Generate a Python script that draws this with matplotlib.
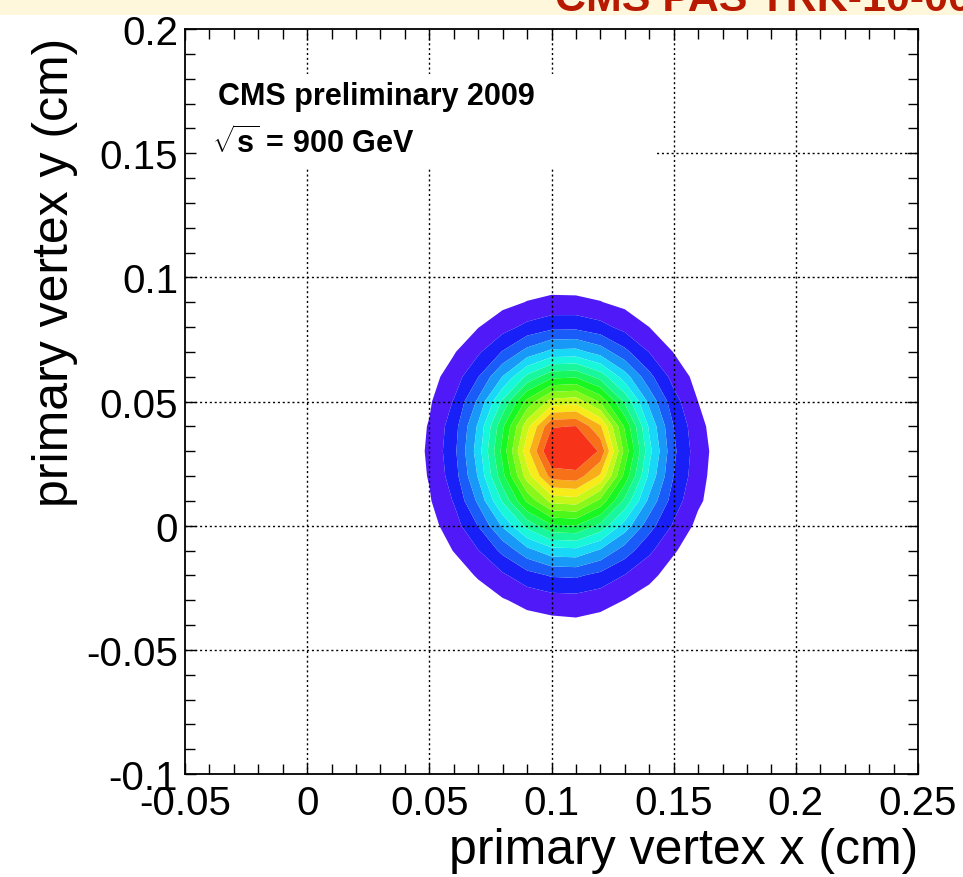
import numpy as np
import matplotlib
matplotlib.use("Agg")
import matplotlib.pyplot as plt
from matplotlib.colors import ListedColormap, hsv_to_rgb
from matplotlib.ticker import MultipleLocator, FuncFormatter
from matplotlib.patches import Rectangle

# bin centres of the vertex histogram (cm)
x_centers = [0.04, 0.05, 0.06, 0.07, 0.08, 0.09, 0.10, 0.11,
             0.12, 0.13, 0.14, 0.15, 0.16, 0.17, 0.18]
y_centers = [-0.05, -0.04, -0.03, -0.02, -0.01, 0.00, 0.01, 0.02, 0.03,
             0.04, 0.05, 0.06, 0.07, 0.08, 0.09, 0.10, 0.11]

# entries per bin, one row per y centre (bottom to top)
counts = [
    [0, 1, 2, 5, 9, 12, 15, 16, 13, 9, 6, 3, 1, 0, 0],
    [1, 3, 6, 13, 24, 33, 40, 45, 36, 24, 15, 8, 3, 1, 0],
    [2, 6, 15, 30, 55, 78, 92, 95, 82, 59, 36, 18, 7, 3, 1],
    [4, 12, 31, 66, 110, 156, 186, 190, 162, 118, 74, 36, 15, 5, 2],
    [8, 24, 62, 118, 196, 280, 336, 342, 292, 212, 132, 66, 27, 10, 3],
    [12, 38, 92, 182, 308, 440, 532, 540, 462, 334, 205, 112, 44, 15, 5],
    [17, 54, 124, 252, 428, 612, 740, 752, 644, 464, 284, 150, 70, 22, 6],
    [22, 64, 150, 306, 522, 750, 925, 935, 830, 580, 346, 180, 80, 26, 8],
    [26, 68, 162, 330, 560, 820, 1030, 1040, 950, 640, 380, 192, 86, 29, 9],
    [24, 64, 152, 310, 528, 760, 955, 962, 850, 590, 350, 180, 76, 27, 8],
    [18, 52, 124, 252, 430, 618, 746, 758, 650, 468, 284, 144, 60, 22, 7],
    [12, 37, 88, 178, 302, 434, 524, 532, 456, 328, 198, 98, 40, 15, 5],
    [7, 22, 55, 110, 184, 262, 316, 320, 274, 196, 118, 58, 24, 9, 3],
    [4, 12, 29, 58, 96, 136, 163, 164, 140, 100, 60, 30, 13, 5, 2],
    [2, 5, 12, 26, 43, 62, 73, 72, 62, 44, 27, 13, 6, 2, 1],
    [1, 2, 5, 10, 17, 24, 29, 28, 24, 17, 11, 6, 2, 1, 0],
    [0, 1, 2, 3, 6, 8, 10, 10, 9, 6, 4, 2, 1, 0, 0],
]

plt.rcParams['font.family'] = ['Liberation Sans', 'DejaVu Sans']
plt.rcParams['mathtext.fontset'] = 'custom'
plt.rcParams['mathtext.rm'] = 'Liberation Sans'
plt.rcParams['mathtext.bf'] = 'Liberation Sans:bold'

W, H = 963, 878
fig = plt.figure(figsize=(W / 100, H / 100), dpi=100)

# slide banner at the top (cut off)
fig.patches.append(Rectangle((0, 1 - 16 / H), 1, 16 / H, transform=fig.transFigure,
                             facecolor='#fff7dc', edgecolor='none'))
fig.text(555 / W, 1 - 11 / H, "CMS PAS TRK-10-005", color='#b81a00',
         fontsize=31, fontweight='bold', ha='left', va='baseline')

ax = fig.add_axes([185 / W, 1 - 775 / H, 733 / W, 745 / H])

# ROOT-like rainbow palette, violet -> red
n_bands = 16
hues = np.linspace(0.708, 0.02, n_bands)
cmap = ListedColormap(hsv_to_rgb(np.column_stack([hues, np.full(n_bands, 0.9),
                                                  np.full(n_bands, 0.97)])))
z = np.array(counts, dtype=float)
levels = np.append(np.arange(60, 961, 60), z.max() + 1)
ax.contourf(x_centers, y_centers, z, levels=levels, cmap=cmap, zorder=1,
            antialiased=True)

ax.set_xlim(-0.05, 0.25)
ax.set_ylim(-0.1, 0.2)
ax.xaxis.set_major_locator(MultipleLocator(0.05))
ax.xaxis.set_minor_locator(MultipleLocator(0.01))
ax.yaxis.set_major_locator(MultipleLocator(0.05))
ax.yaxis.set_minor_locator(MultipleLocator(0.01))
fmt = FuncFormatter(lambda v, p: f"{round(v, 4) + 0:g}")
ax.xaxis.set_major_formatter(fmt)
ax.yaxis.set_major_formatter(fmt)

# dotted grid at the major ticks
for xv in ax.get_xticks():
    if -0.05 < xv < 0.25:
        ax.axvline(xv, color='black', lw=1.0, ls=(0, (1.5, 2.0)), zorder=2)
for yv in ax.get_yticks():
    if -0.1 < yv < 0.2:
        ax.axhline(yv, color='black', lw=1.0, ls=(0, (1.5, 2.0)), zorder=2)

# white text pad
ax.add_patch(Rectangle((0, 0.815), 0.641, 0.125, transform=ax.transAxes,
                       facecolor='white', edgecolor='none', zorder=3))
ax.text(0.045, 0.899, "CMS preliminary 2009", transform=ax.transAxes,
        fontsize=22, fontweight='bold', va='baseline', ha='left', zorder=4)
ax.text(0.037, 0.835, r"$\sqrt{\mathbf{s}}$ = 900 GeV", transform=ax.transAxes,
        fontsize=22, fontweight='bold', va='baseline', ha='left', zorder=4)

ax.tick_params(which='both', direction='in', top=True, right=True, width=1.0,
               labelsize=29)
ax.tick_params(which='major', length=8)
ax.tick_params(which='minor', length=7)
ax.tick_params(axis='x', pad=7)
ax.tick_params(axis='y', pad=5)
ax.xaxis.set_zorder(5)
ax.yaxis.set_zorder(5)
for sp in ax.spines.values():
    sp.set_linewidth(1.3)
    sp.set_zorder(6)

ax.set_xlabel("primary vertex x (cm)", fontsize=36, loc='right')
ax.xaxis.set_label_coords(1.0, -0.071)
ax.set_ylabel("primary vertex y (cm)", fontsize=36, loc='top')
ax.yaxis.set_label_coords(-0.146, 0.99)

fig.savefig("out.png", dpi=100)
